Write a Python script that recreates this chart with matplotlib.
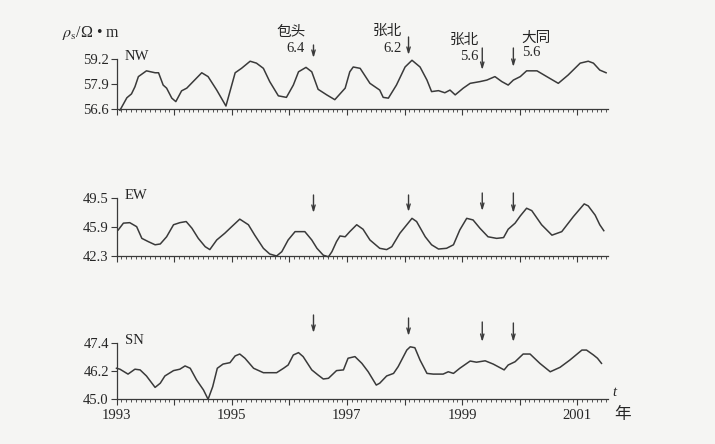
import matplotlib
matplotlib.use('Agg')
import matplotlib.pyplot as plt
import matplotlib.transforms as mtransforms
from matplotlib.ticker import MultipleLocator, NullFormatter
import numpy as np

plt.rcParams['font.family'] = ['Liberation Serif', 'Noto Sans CJK SC', 'DejaVu Sans']
plt.rcParams['mathtext.fontset'] = 'stix'

# apparent resistivity series (year, value)
nw_t = [1993.06, 1993.18, 1993.26, 1993.32, 1993.38, 1993.52, 1993.67, 1993.73, 1993.81, 1993.87,
        1993.96, 1994.03, 1994.13, 1994.22, 1994.33, 1994.48, 1994.59, 1994.74, 1994.90, 1995.06,
        1995.17, 1995.32, 1995.43, 1995.55, 1995.66, 1995.81, 1995.95, 1996.07, 1996.16, 1996.29,
        1996.39, 1996.50, 1996.65, 1996.79, 1996.97, 1997.05, 1997.11, 1997.23, 1997.40, 1997.57,
        1997.63, 1997.72, 1997.86, 1998.01, 1998.13, 1998.27, 1998.39, 1998.47, 1998.59, 1998.70,
        1998.79, 1998.88, 1999.02, 1999.14, 1999.31, 1999.43, 1999.57, 1999.69, 1999.80, 1999.89,
        2000.01, 2000.12, 2000.30, 2000.47, 2000.67, 2000.84, 2001.05, 2001.19, 2001.28, 2001.39,
        2001.50]
nw_v = [56.55, 57.2, 57.4, 57.77, 58.3, 58.6, 58.5, 58.5, 57.86, 57.7,
        57.18, 57.0, 57.56, 57.7, 58.04, 58.5, 58.3, 57.6, 56.77, 58.5,
        58.73, 59.1, 59.0, 58.73, 58.04, 57.3, 57.22, 57.86, 58.55, 58.78,
        58.55, 57.64, 57.35, 57.1, 57.7, 58.55, 58.8, 58.73, 57.95, 57.6,
        57.22, 57.18, 57.86, 58.8, 59.15, 58.8, 58.12, 57.52, 57.57, 57.46,
        57.6, 57.35, 57.7, 57.95, 58.04, 58.12, 58.3, 58.04, 57.86, 58.12,
        58.3, 58.6, 58.6, 58.3, 57.95, 58.38, 59.0, 59.1, 59.0, 58.64,
        58.5]

ew_t = [1993.03, 1993.12, 1993.23, 1993.35, 1993.44, 1993.55, 1993.67, 1993.76, 1993.87, 1993.99,
        1994.10, 1994.21, 1994.31, 1994.42, 1994.54, 1994.62, 1994.74, 1994.88, 1995.00, 1995.14,
        1995.29, 1995.40, 1995.55, 1995.66, 1995.78, 1995.87, 1995.98, 1996.10, 1996.27, 1996.39,
        1996.48, 1996.59, 1996.68, 1996.74, 1996.82, 1996.88, 1996.97, 1997.05, 1997.17, 1997.28,
        1997.40, 1997.57, 1997.69, 1997.78, 1997.92, 1998.13, 1998.21, 1998.36, 1998.47, 1998.59,
        1998.73, 1998.85, 1998.96, 1999.08, 1999.19, 1999.31, 1999.45, 1999.60, 1999.72, 1999.80,
        1999.92, 2000.01, 2000.12, 2000.21, 2000.38, 2000.56, 2000.73, 2000.93, 2001.12, 2001.19,
        2001.31, 2001.39, 2001.46]
ew_v = [45.55, 46.4, 46.46, 45.96, 44.5, 44.1, 43.7, 43.8, 44.7, 46.2,
        46.46, 46.6, 45.76, 44.5, 43.46, 43.1, 44.3, 45.14, 45.96, 46.9,
        46.2, 44.9, 43.26, 42.55, 42.3, 42.84, 44.3, 45.34, 45.34, 44.3,
        43.26, 42.4, 42.2, 42.84, 44.1, 44.8, 44.7, 45.34, 46.2, 45.64,
        44.3, 43.26, 43.1, 43.46, 45.14, 47.0, 46.6, 44.7, 43.7, 43.17,
        43.26, 43.7, 45.55, 47.0, 46.8, 45.76, 44.7, 44.5, 44.6, 45.64,
        46.4, 47.3, 48.26, 47.96, 46.2, 44.9, 45.34, 47.2, 48.8, 48.55,
        47.4, 46.2, 45.46]

sn_t = [1993.0, 1993.06, 1993.20, 1993.32, 1993.41, 1993.52, 1993.67, 1993.76, 1993.84, 1993.99,
        1994.10, 1994.19, 1994.28, 1994.39, 1994.51, 1994.59, 1994.67, 1994.75, 1994.85, 1994.97,
        1995.06, 1995.14, 1995.23, 1995.38, 1995.55, 1995.78, 1995.90, 1995.98, 1996.07, 1996.16,
        1996.24, 1996.39, 1996.50, 1996.59, 1996.68, 1996.82, 1996.94, 1997.02, 1997.14, 1997.26,
        1997.37, 1997.51, 1997.57, 1997.69, 1997.81, 1997.89, 1998.04, 1998.10, 1998.18, 1998.27,
        1998.39, 1998.50, 1998.67, 1998.76, 1998.85, 1998.96, 1999.14, 1999.25, 1999.40, 1999.54,
        1999.73, 1999.80, 1999.92, 2000.06, 2000.18, 2000.35, 2000.53, 2000.70, 2000.87, 2001.08,
        2001.16, 2001.28, 2001.35, 2001.42]
sn_v = [46.33, 46.29, 46.08, 46.29, 46.26, 46.0, 45.51, 45.69, 46.0, 46.23,
        46.29, 46.43, 46.33, 45.83, 45.4, 45.0, 45.54, 46.33, 46.51, 46.57,
        46.86, 46.94, 46.76, 46.33, 46.14, 46.14, 46.33, 46.47, 46.9, 47.0,
        46.83, 46.26, 46.04, 45.87, 45.9, 46.23, 46.26, 46.76, 46.83, 46.54,
        46.18, 45.61, 45.69, 46.0, 46.11, 46.4, 47.11, 47.25, 47.21, 46.68,
        46.11, 46.08, 46.08, 46.18, 46.11, 46.33, 46.64, 46.59, 46.65, 46.51,
        46.26, 46.47, 46.61, 46.94, 46.94, 46.54, 46.18, 46.37, 46.68, 47.11,
        47.11, 46.9, 46.76, 46.54]

# earthquakes marked with arrows
quake_t = [1996.42, 1998.07, 1999.35, 1999.89]
quake_place = ['包头', '张北', '张北', '大同']
quake_mag = ['6.4', '6.2', '5.6', '5.6']

panels = [
    ('NW', nw_t, nw_v, [56.6, 57.9, 59.2]),
    ('EW', ew_t, ew_v, [42.3, 45.9, 49.5]),
    ('SN', sn_t, sn_v, [45.0, 46.2, 47.4]),
]

W, H = 715, 444
fig = plt.figure(figsize=(W / 100, H / 100), dpi=100)
fig.patch.set_facecolor('#f5f5f3')

# axes boxes in pixels: (bottom y, top y)
boxes = [(109.3, 59.3), (256.0, 198.3), (399.3, 343.3)]
x0, x1 = 116.5, 607.5
line_c = '#3a3a3a'
text_c = '#262626'

axes = []
for (name, t, v, yt), (yb, ytop) in zip(panels, boxes):
    ax = fig.add_axes([x0 / W, 1 - yb / H, (x1 - x0) / W, (yb - ytop) / H])
    ax.set_facecolor('none')
    ax.plot(t, v, color=line_c, lw=1.1, clip_on=False)
    ax.set_xlim(1993, 1993 + (x1 - x0) / 57.6)
    ax.set_ylim(yt[0], yt[-1])
    ax.set_yticks(yt)
    ax.set_yticklabels([f'{y:.1f}' for y in yt], fontsize=10.5, color=text_c)
    for s in ['top', 'right']:
        ax.spines[s].set_visible(False)
    for s in ['left', 'bottom']:
        ax.spines[s].set_color(line_c)
        ax.spines[s].set_linewidth(0.9)
    ax.xaxis.set_major_locator(MultipleLocator(1))
    ax.xaxis.set_minor_locator(MultipleLocator(1 / 12))
    ax.tick_params(axis='x', which='major', length=4, width=0.8, color=line_c)
    ax.tick_params(axis='x', which='minor', length=2.2, width=0.6, color=line_c)
    ax.tick_params(axis='y', length=4, width=0.8, color=line_c, pad=1.5)
    ax.xaxis.set_major_formatter(NullFormatter())
    ax.text(125 / W, 1 - (ytop - 3) / H, name, transform=fig.transFigure,
            fontsize=10.5, ha='left', va='center', color=text_c)
    axes.append(ax)

# year labels on the bottom panel
years = np.arange(1993, 2002)
axes[2].set_xticks(years)
axes[2].set_xticklabels([str(y) if y % 2 == 1 else '' for y in years], fontsize=10.5, color=text_c)
axes[2].tick_params(axis='x', which='major', pad=3)

fig.text(62 / W, 1 - 33 / H, r'$\rho_{\mathrm{s}}$/Ω • m', fontsize=11.5, ha='left', va='center', color=text_c)
fig.text(614 / W, 1 - 393 / H, 't', fontsize=10.5, style='italic', ha='center', va='center', color=text_c)
fig.text(623 / W, 1 - 414 / H, '年', fontsize=12, family=['Noto Sans CJK SC'], ha='center', va='center',
         color=text_c)

arrow_kw = dict(arrowstyle='->,head_length=0.4,head_width=0.12', color=line_c, lw=1.0,
                shrinkA=0, shrinkB=0)

# arrows (pixel y from/to) per panel
arrow_y = [
    [(45, 58), (37, 55), (48, 70), (48, 67)],
    [(195, 213), (195, 212), (193, 211), (193, 213)],
    [(315, 333), (318, 336), (322, 342), (323, 342)],
]
for ax, ys in zip(axes, arrow_y):
    tr = mtransforms.blended_transform_factory(ax.transData, fig.transFigure)
    for qt, (ya, yb) in zip(quake_t, ys):
        ax.annotate('', xy=(qt, 1 - yb / H), xytext=(qt, 1 - ya / H),
                    xycoords=tr, textcoords=tr, arrowprops=arrow_kw, annotation_clip=False)

# place names and magnitudes above the NW panel (pixel offsets from the arrow)
label_pos = [((-22, 32), (-18, 48)), ((-21, 31), (-16, 48)), ((-18, 40), (-13, 56)), ((23, 38), (18, 53))]
for qt, place, mag, ((dx1, y1), (dx2, y2)) in zip(quake_t, quake_place, quake_mag, label_pos):
    xp = x0 + (qt - 1993) * 57.6
    fig.text((xp + dx1) / W, 1 - y1 / H, place, fontsize=10.5, family=['Noto Sans CJK SC'],
             ha='center', va='center', color=text_c)
    fig.text((xp + dx2) / W, 1 - y2 / H, mag, fontsize=10.5, ha='center', va='center', color=text_c)

fig.savefig('out.png', dpi=100, facecolor=fig.get_facecolor())
